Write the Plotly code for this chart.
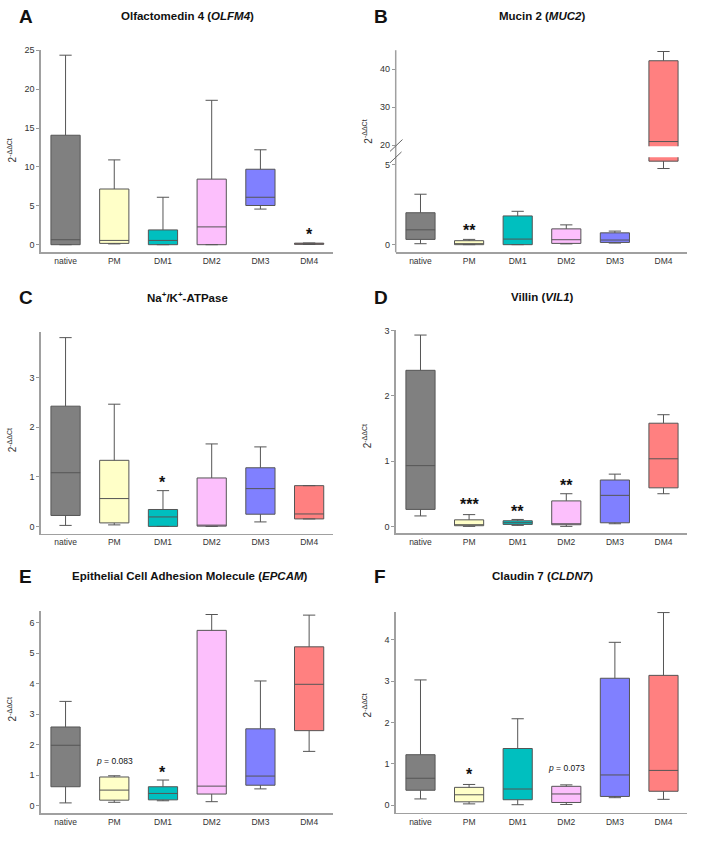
import plotly.graph_objects as go

categories = ["native", "PM", "DM1", "DM2", "DM3", "DM4"]
colors = ["#808080", "#ffffc8", "#00bfbf", "#fcbffc", "#8080ff", "#ff8080"]

# Panel A: OLFM4
olfm4_low = [0.0, 0.1, 0.0, 0.0, 4.58, 0.03]
olfm4_q1 = [0.0, 0.17, 0.0, 0.0, 5.04, 0.05]
olfm4_med = [0.64, 0.55, 0.55, 2.29, 6.1, 0.1]
olfm4_q3 = [14.07, 7.16, 1.9, 8.43, 9.7, 0.2]
olfm4_high = [24.36, 10.9, 6.1, 18.56, 12.2, 0.22]
olfm4_sig = ["", "", "", "", "", "*"]
olfm4_sig_y = [0, 0, 0, 0, 0, 1.98]

# Panel B: MUC2
muc2_low = [0.06, 0.0, 0.0, 0.05, 0.1, 4.77]
muc2_q1 = [0.33, 0.0, 0.0, 0.08, 0.14, 5.23]
muc2_med = [0.93, 0.06, 0.35, 0.31, 0.29, 20.96]
muc2_q3 = [2.0, 0.25, 1.8, 0.99, 0.74, 42.26]
muc2_high = [3.16, 0.33, 2.09, 1.24, 0.85, 44.7]
muc2_sig = ["", "**", "", "", "", "*"]
muc2_sig_y = [0, 1.22, 0, 0, 0, 48.5]

# Panel C: Na+/K+-ATPase
atp_low = [0.02, 0.03, 0.0, 0.0, 0.09, 0.15]
atp_q1 = [0.22, 0.07, 0.0, 0.005, 0.245, 0.15]
atp_med = [1.08, 0.56, 0.19, 0.01, 0.76, 0.25]
atp_q3 = [2.42, 1.33, 0.34, 0.975, 1.18, 0.82]
atp_high = [3.8, 2.46, 0.72, 1.66, 1.6, 0.82]
atp_sig = ["", "", "*", "", "", ""]
atp_sig_y = [0, 0, 0.99, 0, 0, 0]

# Panel D: VIL1
vil1_low = [0.16, 0.0, 0.015, 0.0, 0.04, 0.5]
vil1_q1 = [0.26, 0.01, 0.03, 0.025, 0.055, 0.59]
vil1_med = [0.93, 0.025, 0.056, 0.03, 0.475, 1.035]
vil1_q3 = [2.39, 0.1, 0.086, 0.39, 0.71, 1.58]
vil1_high = [2.93, 0.18, 0.106, 0.5, 0.8, 1.71]
vil1_sig = ["", "***", "**", "**", "", ""]
vil1_sig_y = [0, 0.41, 0.31, 0.71, 0, 0]

# Panel E: EPCAM
epcam_low = [0.09, 0.11, 0.16, 0.13, 0.55, 1.78]
epcam_q1 = [0.62, 0.18, 0.19, 0.38, 0.67, 2.46]
epcam_med = [1.98, 0.51, 0.4, 0.64, 0.97, 3.98]
epcam_q3 = [2.58, 0.94, 0.62, 5.75, 2.52, 5.21]
epcam_high = [3.42, 0.98, 0.84, 6.27, 4.09, 6.25]
epcam_sig = ["", "", "*", "", "", "*"]
epcam_sig_y = [0, 0, 1.25, 0, 0, 6.68]
epcam_p = ["", "<i>p</i> = 0.083", "", "", "", ""]
epcam_p_y = [0, 1.45, 0, 0, 0, 0]

# Panel F: CLDN7
cldn7_low = [0.15, 0.03, 0.01, 0.016, 0.18, 0.14]
cldn7_q1 = [0.36, 0.08, 0.13, 0.064, 0.21, 0.335]
cldn7_med = [0.65, 0.25, 0.39, 0.27, 0.73, 0.84]
cldn7_q3 = [1.22, 0.43, 1.37, 0.455, 3.07, 3.14]
cldn7_high = [3.03, 0.5, 2.09, 0.49, 3.94, 4.66]
cldn7_sig = ["", "*", "", "", "", ""]
cldn7_sig_y = [0, 0.87, 0, 0, 0, 0]
cldn7_p = ["", "", "", "<i>p</i> = 0.073", "", ""]
cldn7_p_y = [0, 0, 0, 0.89, 0, 0]

W, H = 708, 842
FONT = "Liberation Sans, Arial, sans-serif"


def px(x):
    return x / W


def py(y):
    return 1 - y / H


fig = go.Figure()
layout = dict(width=W, height=H, margin=dict(l=0, r=0, t=0, b=0),
              paper_bgcolor="white", plot_bgcolor="white", showlegend=False,
              font=dict(family=FONT, color="#333"))
annotations = []
shapes = []

LEFT = (40.7, 333.0)
RIGHT = (395.7, 687.3)


def add_axes(idx, xdom, ydom, yrange, tickvals, show_xlabels=True, showline_y=True):
    xa = "xaxis" if idx == 1 else f"xaxis{idx}"
    ya = "yaxis" if idx == 1 else f"yaxis{idx}"
    layout[xa] = dict(domain=[px(xdom[0]), px(xdom[1])], anchor=f"y{'' if idx == 1 else idx}",
                      type="category", categoryorder="array", categoryarray=categories,
                      range=[-0.51, 5.49], showgrid=False, zeroline=False,
                      showline=show_xlabels, linecolor="#a0a0a0", linewidth=1.5,
                      ticks="", showticklabels=show_xlabels,
                      tickfont=dict(size=8.5, color="#333", family=FONT), fixedrange=True)
    layout[ya] = dict(domain=[py(ydom[1]), py(ydom[0])], anchor=f"x{'' if idx == 1 else idx}",
                      range=yrange, showgrid=False, zeroline=False,
                      showline=showline_y, linecolor="#a0a0a0", linewidth=1.5,
                      ticks="outside", ticklen=3, tickcolor="#999", tickwidth=1,
                      tickvals=tickvals, tickfont=dict(size=9, color="#333", family=FONT),
                      fixedrange=True)


def add_boxes(idx, low, q1, med, q3, high):
    xr = "x" if idx == 1 else f"x{idx}"
    yr = "y" if idx == 1 else f"y{idx}"
    for i, c in enumerate(categories):
        fig.add_trace(go.Box(x=[c], lowerfence=[low[i]], q1=[q1[i]], median=[med[i]],
                             q3=[q3[i]], upperfence=[high[i]], fillcolor=colors[i],
                             line=dict(color="#555", width=1), whiskerwidth=0.42,
                             width=0.6, boxpoints=False, hoverinfo="skip",
                             xaxis=xr, yaxis=yr))


def add_sig(idx, labels, ys, size=16, bold=True, yshift=-5):
    xr = "x" if idx == 1 else f"x{idx}"
    yr = "y" if idx == 1 else f"y{idx}"
    for i, c in enumerate(categories):
        if labels[i]:
            txt = f"<b>{labels[i]}</b>" if bold else labels[i]
            annotations.append(dict(x=c, y=ys[i], xref=xr, yref=yr, text=txt, showarrow=False,
                                    font=dict(size=size, color="#111", family=FONT),
                                    xanchor="center", yanchor="middle", yshift=yshift))


def add_title(xc, yc, text, letter, lx, ly):
    annotations.append(dict(x=px(xc), y=py(yc), xref="paper", yref="paper", text=f"<b>{text}</b>",
                            showarrow=False, font=dict(size=11.5, color="#111", family=FONT),
                            xanchor="center", yanchor="middle"))
    annotations.append(dict(x=px(lx), y=py(ly), xref="paper", yref="paper", text=f"<b>{letter}</b>",
                            showarrow=False, font=dict(size=19, color="#111", family=FONT),
                            xanchor="left", yanchor="middle"))


def add_ytitle(xc, yc):
    annotations.append(dict(x=px(xc), y=py(yc), xref="paper", yref="paper",
                            text="2<sup>-ΔΔCt</sup>", textangle=-90, showarrow=False,
                            font=dict(size=10, color="#333", family=FONT),
                            xanchor="center", yanchor="middle"))


# Panel A
add_axes(1, LEFT, (45.7, 250.0), [-0.98, 25.0], [0, 5, 10, 15, 20, 25])
add_boxes(1, olfm4_low, olfm4_q1, olfm4_med, olfm4_q3, olfm4_high)
add_sig(1, olfm4_sig, olfm4_sig_y)
add_title(187, 11, "Olfactomedin 4 (<i>OLFM4</i>)", "A", 17, 12)
add_ytitle(12, 147)

# Panel B (broken axis: upper + lower)
add_axes(2, RIGHT, (45.7, 142.7), [19.74, 45.04], [20, 30, 40], show_xlabels=False, showline_y=False)
add_boxes(2, muc2_low, muc2_q1, muc2_med, muc2_q3, muc2_high)
add_axes(3, RIGHT, (154.0, 250.0), [-0.48, 5.47], [0, 5], show_xlabels=True, showline_y=False)
add_boxes(3, muc2_low, muc2_q1, muc2_med, muc2_q3, muc2_high)
add_sig(2, [s if i == 5 else "" for i, s in enumerate(muc2_sig)], muc2_sig_y)
add_sig(3, [s if i != 5 else "" for i, s in enumerate(muc2_sig)], muc2_sig_y)
shapes.append(dict(type="line", xref="paper", yref="paper", x0=px(395.7), x1=px(395.7),
                   y0=py(45.7), y1=py(250.0), line=dict(color="#a0a0a0", width=1.5)))
shapes.append(dict(type="line", xref="paper", yref="paper", x0=px(390), x1=px(402.5),
                   y0=py(148), y1=py(136), line=dict(color="#666", width=1)))
shapes.append(dict(type="line", xref="paper", yref="paper", x0=px(390), x1=px(401.5),
                   y0=py(159.5), y1=py(148.5), line=dict(color="#666", width=1)))
add_title(542, 11, "Mucin 2 (<i>MUC2</i>)", "B", 372, 12)
add_ytitle(367, 128)

# Panel C
add_axes(4, LEFT, (330.7, 534.3), [-0.145, 3.91], [0, 1, 2, 3])
add_boxes(4, atp_low, atp_q1, atp_med, atp_q3, atp_high)
add_sig(4, atp_sig, atp_sig_y)
add_title(187, 295.5, "Na<sup>+</sup>/K<sup>+</sup>-ATPase", "C", 17, 296)
add_ytitle(12, 440)

# Panel D
add_axes(5, RIGHT, (329.0, 534.0), [-0.106, 3.0], [0, 1, 2, 3])
add_boxes(5, vil1_low, vil1_q1, vil1_med, vil1_q3, vil1_high)
add_sig(5, vil1_sig, vil1_sig_y)
add_title(542, 295, "Villin (<i>VIL1</i>)", "D", 372, 296)
add_ytitle(367, 436)

# Panel E
add_axes(6, LEFT, (612.7, 817.0), [-0.25, 6.38], [0, 1, 2, 3, 4, 5, 6])
add_boxes(6, epcam_low, epcam_q1, epcam_med, epcam_q3, epcam_high)
add_sig(6, epcam_sig, epcam_sig_y)
add_sig(6, epcam_p, epcam_p_y, size=8.5, bold=False, yshift=0)
add_title(190, 577, "Epithelial Cell Adhesion Molecule (<i>EPCAM</i>)", "E", 17, 578)
add_ytitle(12, 712)

# Panel F
add_axes(7, RIGHT, (613.3, 816.7), [-0.19, 4.68], [0, 1, 2, 3, 4])
add_boxes(7, cldn7_low, cldn7_q1, cldn7_med, cldn7_q3, cldn7_high)
add_sig(7, cldn7_sig, cldn7_sig_y)
add_sig(7, cldn7_p, cldn7_p_y, size=8.5, bold=False, yshift=0)
add_title(542, 577, "Claudin 7 (<i>CLDN7</i>)", "F", 372, 578)
add_ytitle(367, 708)

layout["annotations"] = annotations
layout["shapes"] = shapes
fig.update_layout(**layout)

fig.write_html("out.html", config={"displayModeBar": False, "staticPlot": True},
               post_script="document.body.style.margin='0';")
